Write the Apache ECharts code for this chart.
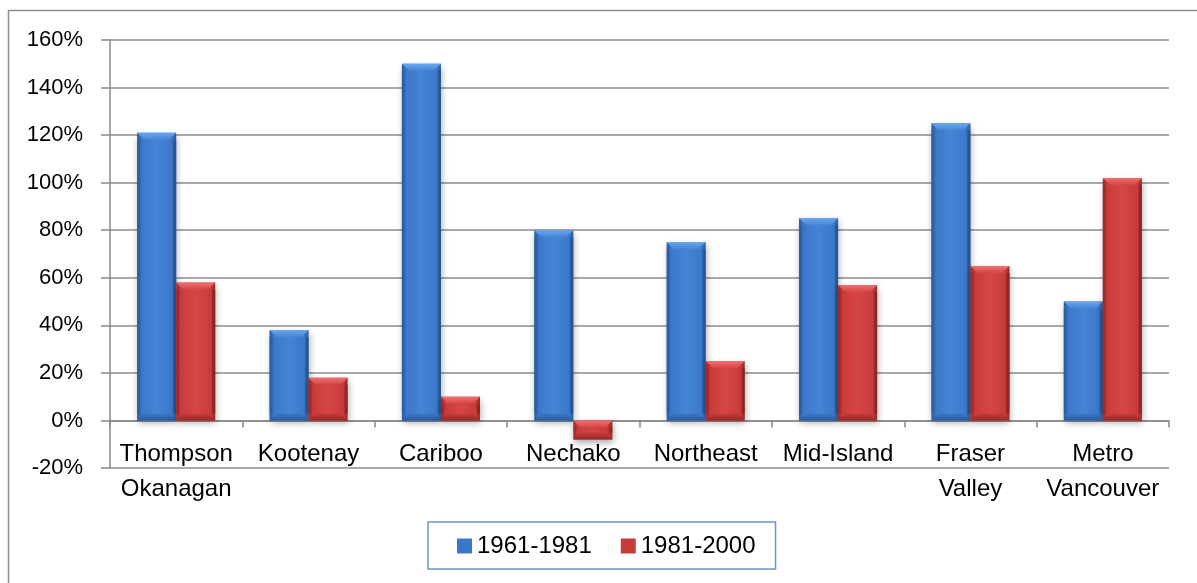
<!DOCTYPE html>
<html>
<head>
<meta charset="utf-8">
<title>Population growth by region</title>
<script src="https://cdn.jsdelivr.net/npm/echarts@6/dist/echarts.min.js"></script>
<style>
  html, body { margin: 0; padding: 0; background: #fff; }
  #chart { width: 1197px; height: 583px; }
</style>
</head>
<body>
<div id="chart"></div>
<script>
// Regions and growth rates (percent) for the two periods
const categories = ['Thompson\nOkanagan', 'Kootenay', 'Cariboo', 'Nechako', 'Northeast', 'Mid-Island', 'Fraser\nValley', 'Metro\nVancouver'];
const growth1961_1981 = [121, 38, 150, 80, 75, 85, 125, 50];
const growth1981_2000 = [58, 18, 10, -8, 25, 57, 65, 102];
const seriesNames = ['1961-1981', '1981-2000'];

// Bevelled bar palettes: face, light top edge, dark edges
const palettes = [
  { face: '#3b78c9', mid: '#4585d6', light: '#6aa6ee', dark: '#2b5c9c', edge: '#24508a' },
  { face: '#c93b3b', mid: '#d64646', light: '#ee7070', dark: '#9a2828', edge: '#862222' }
];

function bevelBar(seriesIdx) {
  const p = palettes[seriesIdx];
  return function (params, api) {
    const idx = api.value(0);
    const v = api.value(1);
    const base = api.coord([idx, 0]);
    const end = api.coord([idx, v]);
    const band = api.size([1, 0])[0];
    const bw = band * 0.295;
    const x0 = base[0] - bw + seriesIdx * bw;
    const yTop = Math.min(base[1], end[1]);
    const h = Math.abs(base[1] - end[1]);
    const d = Math.min(7, h / 2);
    const s = 3;
    const yBot = yTop + h;
    return {
      type: 'group',
      children: [
        {
          type: 'rect',
          shape: { x: x0, y: yTop, width: bw, height: h },
          style: {
            fill: new echarts.graphic.LinearGradient(0, 0, 1, 0, [
              { offset: 0, color: p.dark },
              { offset: 0.12, color: p.face },
              { offset: 0.5, color: p.mid },
              { offset: 0.88, color: p.face },
              { offset: 1, color: p.dark }
            ]),
            shadowBlur: 7,
            shadowOffsetY: 3,
            shadowOffsetX: 1,
            shadowColor: 'rgba(0,0,0,0.35)'
          }
        },
        {
          type: 'polygon',
          shape: { points: [[x0, yTop], [x0 + bw, yTop], [x0 + bw - d, yTop + d], [x0 + d, yTop + d]] },
          style: {
            fill: new echarts.graphic.LinearGradient(0, 0, 0, 1, [
              { offset: 0, color: p.light },
              { offset: 1, color: p.mid }
            ])
          }
        },
        {
          type: 'polygon',
          shape: { points: [[x0, yBot], [x0 + bw, yBot], [x0 + bw - d, yBot - d], [x0 + d, yBot - d]] },
          style: {
            fill: new echarts.graphic.LinearGradient(0, 0, 0, 1, [
              { offset: 0, color: p.face },
              { offset: 1, color: p.dark }
            ])
          }
        },
        {
          type: 'rect',
          shape: { x: x0, y: yTop + d, width: s, height: Math.max(0, h - 2 * d) },
          style: { fill: p.dark, opacity: 0.6 }
        },
        {
          type: 'rect',
          shape: { x: x0 + bw - s, y: yTop + d, width: s, height: Math.max(0, h - 2 * d) },
          style: { fill: p.edge, opacity: 0.7 }
        }
      ]
    };
  };
}

const chart = echarts.init(document.getElementById('chart'));
const font = 'Liberation Sans, Arial, sans-serif';

chart.setOption({
  animation: false,
  backgroundColor: '#fff',
  textStyle: { fontFamily: font },
  graphic: [{
    type: 'rect',
    shape: { x: 8.5, y: 10.5, width: 1200, height: 600 },
    style: { fill: 'none', stroke: '#8f8f8f', lineWidth: 1.5 },
    z: 0
  }],
  grid: { left: 110, right: 28, top: 40, bottom: 115 },
  legend: {
    data: seriesNames,
    left: 428,
    top: 522,
    orient: 'horizontal',
    icon: 'rect',
    itemWidth: 15,
    itemHeight: 15,
    itemGap: 29,
    padding: [12, 20, 11, 29],
    borderColor: '#6d93c6',
    borderWidth: 1.5,
    textStyle: { fontSize: 24, color: '#000', fontFamily: font }
  },
  xAxis: {
    type: 'category',
    data: categories,
    axisLine: { onZero: true, lineStyle: { color: '#888', width: 1.5 } },
    axisTick: { show: true, length: 7, alignWithLabel: false, lineStyle: { color: '#888', width: 1.5 } },
    axisLabel: {
      interval: 0,
      margin: -31,
      fontSize: 24,
      lineHeight: 35,
      color: '#000',
      fontFamily: font
    },
    splitLine: { show: false }
  },
  yAxis: {
    type: 'value',
    min: -20,
    max: 160,
    interval: 20,
    axisLine: { show: true, lineStyle: { color: '#888', width: 1.5 } },
    axisTick: { show: true, length: 9, lineStyle: { color: '#888', width: 1.5 } },
    axisLabel: { formatter: '{value}%', fontSize: 22, color: '#000', margin: 27, fontFamily: font },
    splitLine: { show: true, lineStyle: { color: '#8c8c8c', width: 1.5 } }
  },
  series: [
    {
      name: seriesNames[0],
      type: 'custom',
      renderItem: bevelBar(0),
      itemStyle: { color: palettes[0].face },
      encode: { x: 0, y: 1 },
      data: growth1961_1981.map((v, i) => [i, v]),
      z: 3
    },
    {
      name: seriesNames[1],
      type: 'custom',
      renderItem: bevelBar(1),
      itemStyle: { color: palettes[1].face },
      encode: { x: 0, y: 1 },
      data: growth1981_2000.map((v, i) => [i, v]),
      z: 3
    }
  ]
});
</script>
</body>
</html>
